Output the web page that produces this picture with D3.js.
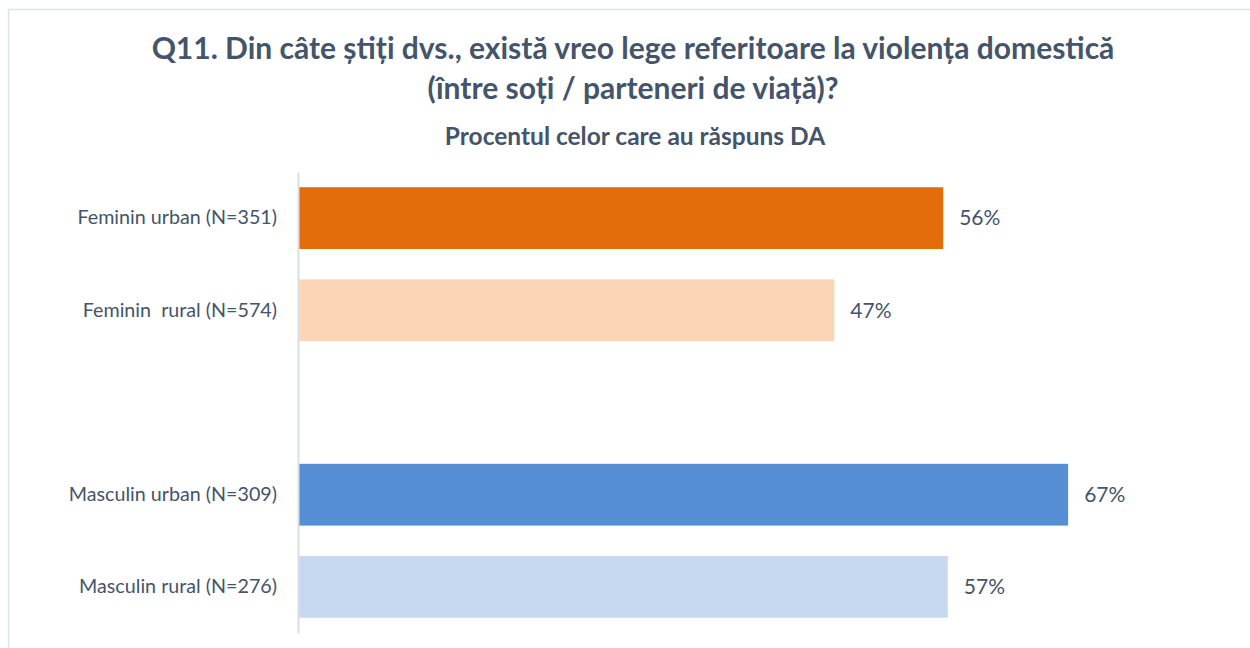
<!DOCTYPE html>
<html>
<head>
<meta charset="utf-8">
<script src="https://cdn.jsdelivr.net/npm/d3@7"></script>
<style>
  html, body { margin: 0; padding: 0; background: #fff; }
  svg { display: block; }
  text { white-space: pre; }
</style>
</head>
<body>
<svg id="chart" width="1250" height="648"></svg>
<script>
const titleLines = ["Q11. Din câte știți dvs., există vreo lege referitoare la violența domestică", "(între soți / parteneri de viață)?"];
const subtitle = "Procentul celor care au răspuns DA";
const categories = ["Feminin urban (N=351)", "Feminin  rural (N=574)", "", "Masculin urban (N=309)", "Masculin rural (N=276)"];
const values = [56.2, 46.7, null, 67.1, 56.6];
const valueLabels = ["56%", "47%", "", "67%", "57%"];
const colors = ["#E46C0A", "#FBD5B5", "none", "#558ED5", "#C6D9F1"];

const svg = d3.select("#chart");
const textColor = "#44546A";
const font = "Lato, 'Open Sans', sans-serif";

// chart border
svg.append("rect").attr("x", 8.5).attr("y", 9.5).attr("width", 1260).attr("height", 660)
  .attr("fill", "none").attr("stroke", "#dde3ea").attr("stroke-width", 1.5);

// title
svg.append("text").attr("x", 633).attr("y", 59).attr("text-anchor", "middle")
  .attr("font-family", font).attr("font-weight", "bold").attr("font-size", 30)
  .attr("fill", textColor).text(titleLines[0]);
svg.append("text").attr("x", 633).attr("y", 99).attr("text-anchor", "middle")
  .attr("font-family", font).attr("font-weight", "bold").attr("font-size", 30)
  .attr("fill", textColor).text(titleLines[1]);
svg.append("text").attr("x", 635).attr("y", 145).attr("text-anchor", "middle")
  .attr("font-family", font).attr("font-weight", "bold").attr("font-size", 24.5)
  .attr("fill", textColor).text(subtitle);

const x = d3.scaleLinear().domain([0, 80]).range([299, 1216]);
const y = d3.scaleBand().domain(d3.range(categories.length)).range([172, 633]).paddingInner(0.33).paddingOuter(0.165);

const idx = d3.range(categories.length).filter(i => values[i] != null);

svg.append("g").selectAll("rect").data(idx).join("rect")
  .attr("x", x(0)).attr("y", i => y(i)).attr("width", i => x(values[i]) - x(0))
  .attr("height", y.bandwidth()).attr("fill", i => colors[i]);

// axis line
const yAxis = d3.axisLeft(y).tickSize(0).tickFormat(i => categories[i]).tickPadding(21);
const ag = svg.append("g").attr("transform", `translate(${x(0) - 1},0)`).call(yAxis);
ag.select(".domain").attr("stroke", "#d9dee6").attr("stroke-width", 2);
ag.selectAll("text").attr("font-family", font).attr("font-size", 19.7).attr("fill", textColor);

// value labels
svg.append("g").selectAll("text").data(idx).join("text")
  .attr("x", i => x(values[i]) + 16).attr("y", i => y(i) + y.bandwidth() / 2)
  .attr("dy", "0.35em").attr("font-family", font).attr("font-size", 21).attr("fill", textColor)
  .text(i => valueLabels[i]);
</script>
</body>
</html>
